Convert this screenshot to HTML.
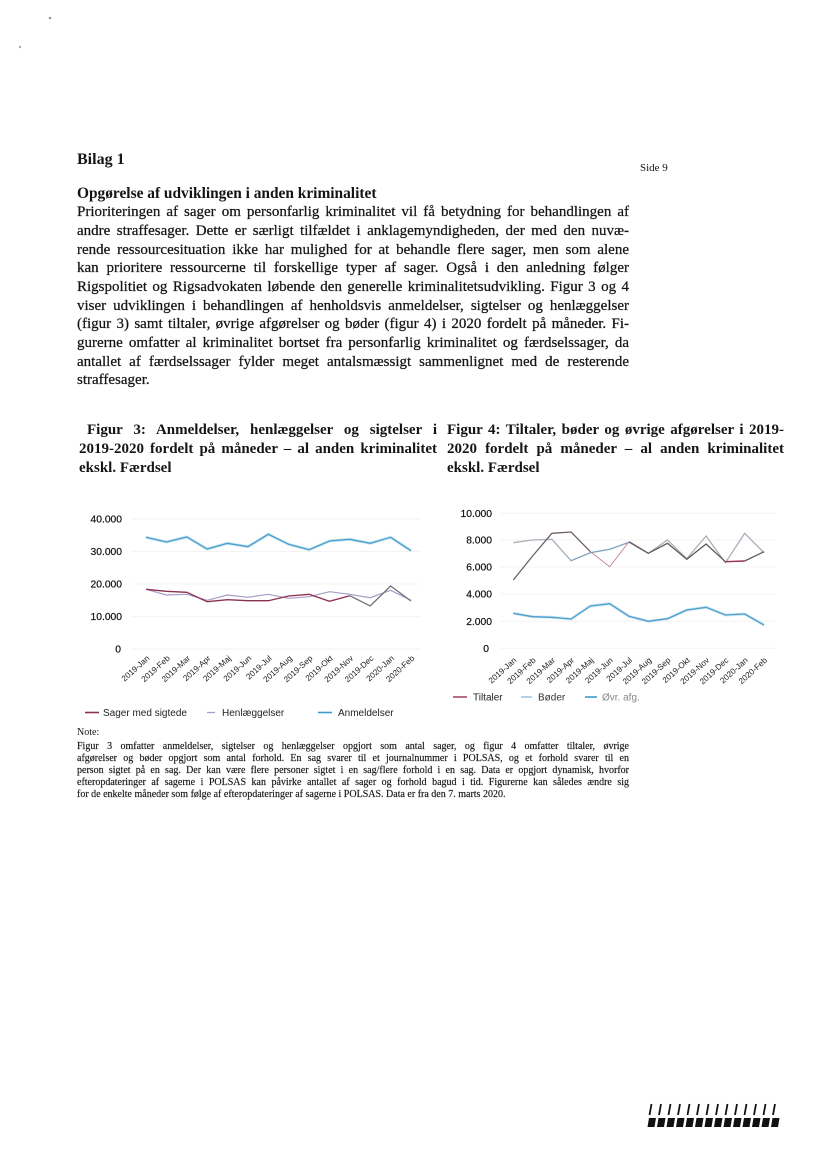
<!DOCTYPE html>
<html>
<head>
<meta charset="utf-8">
<style>
  html,body{margin:0;padding:0;background:#fff;}
  body{width:828px;height:1169px;position:relative;overflow:hidden;font-family:"Liberation Serif",serif;color:#151515;}
  .abs{position:absolute;}
  .j{text-align:justify;text-align-last:justify;white-space:normal;}
  .para{left:77px;top:203.3px;width:552px;font-size:15px;line-height:18.7px;-webkit-text-stroke:0.25px #151515;}
  .para div{height:18.7px;overflow:visible;}
  .cap{font-weight:bold;font-size:15px;line-height:19px;}
  .cap div{height:19px;}
  .note{left:77px;width:552px;font-size:10px;line-height:12px;-webkit-text-stroke:0.15px #151515;}
  .note div{height:12px;}
  svg{position:absolute;left:0;top:0;}
</style>
</head>
<body>

<div class="abs" style="left:77px;top:150.6px;font-size:16px;line-height:18px;font-weight:bold;">Bilag 1</div>
<div class="abs" style="left:640px;top:161px;font-size:11px;line-height:14px;">Side 9</div>
<div class="abs" style="left:77px;top:184.8px;font-size:15.4px;line-height:18px;font-weight:bold;">Opgørelse af udviklingen i anden kriminalitet</div>

<div class="abs para">
  <div class="j">Prioriteringen af sager om personfarlig kriminalitet vil få betydning for behandlingen af</div>
  <div class="j">andre straffesager. Dette er særligt tilfældet i anklagemyndigheden, der med den nuvæ-</div>
  <div class="j">rende ressourcesituation ikke har mulighed for at behandle flere sager, men som alene</div>
  <div class="j">kan prioritere ressourcerne til forskellige typer af sager. Også i den anledning følger</div>
  <div class="j">Rigspolitiet og Rigsadvokaten løbende den generelle kriminalitetsudvikling. Figur 3 og 4</div>
  <div class="j">viser udviklingen i behandlingen af henholdsvis anmeldelser, sigtelser og henlæggelser</div>
  <div class="j">(figur 3) samt tiltaler, øvrige afgørelser og bøder (figur 4) i 2020 fordelt på måneder. Fi-</div>
  <div class="j">gurerne omfatter al kriminalitet bortset fra personfarlig kriminalitet og færdselssager, da</div>
  <div class="j">antallet af færdselssager fylder meget antalsmæssigt sammenlignet med de resterende</div>
  <div>straffesager.</div>
</div>

<div class="abs cap" style="left:79px;top:421.4px;width:358px;">
  <div class="j" style="padding-left:8px;">Figur 3: Anmeldelser, henlæggelser og sigtelser i</div>
  <div class="j">2019-2020 fordelt på måneder – al anden kriminalitet</div>
  <div>ekskl. Færdsel</div>
</div>

<div class="abs cap" style="left:447px;top:421.4px;width:337px;">
  <div class="j">Figur 4: Tiltaler, bøder og øvrige afgørelser i 2019-</div>
  <div class="j">2020 fordelt på måneder – al anden kriminalitet</div>
  <div>ekskl. Færdsel</div>
</div>

<div class="abs" style="left:77px;top:727px;font-size:10px;line-height:12px;">Note:</div>
<div class="abs note" style="top:740.5px;">
  <div class="j">Figur 3 omfatter anmeldelser, sigtelser og henlæggelser opgjort som antal sager, og figur 4 omfatter tiltaler, øvrige</div>
  <div class="j">afgørelser og bøder opgjort som antal forhold. En sag svarer til et journalnummer i POLSAS, og et forhold svarer til en</div>
  <div class="j">person sigtet på en sag. Der kan være flere personer sigtet i en sag/flere forhold i en sag. Data er opgjort dynamisk, hvorfor</div>
  <div class="j">efteropdateringer af sagerne i POLSAS kan påvirke antallet af sager og forhold bagud i tid. Figurerne kan således ændre sig</div>
  <div>for de enkelte måneder som følge af efteropdateringer af sagerne i POLSAS. Data er fra den 7. marts 2020.</div>
</div>

<svg width="828" height="1169" viewBox="0 0 828 1169" xmlns="http://www.w3.org/2000/svg">
  <!-- scan specks -->
  <circle cx="50" cy="18" r="1.3" fill="#999"/>
  <circle cx="20" cy="47" r="1.2" fill="#aaa"/>

  <!-- ===== Figure 3 ===== -->
  <g stroke="#f3f3f3" stroke-width="1">
    <line x1="132" y1="519" x2="420" y2="519"/>
    <line x1="132" y1="551.5" x2="420" y2="551.5"/>
    <line x1="132" y1="584" x2="420" y2="584"/>
    <line x1="132" y1="616.5" x2="420" y2="616.5"/>
    <line x1="132" y1="649" x2="420" y2="649"/>
  </g>
  <g font-family="Liberation Sans, sans-serif" font-size="10.3" fill="#111" text-anchor="end" stroke="#111" stroke-width="0.2">
    <text x="122" y="522.5">40.000</text>
    <text x="122" y="555">30.000</text>
    <text x="122" y="587.5">20.000</text>
    <text x="122" y="620">10.000</text>
    <text x="121" y="652.5">0</text>
  </g>
  <polyline fill="none" stroke="#c9e4f2" stroke-width="3" points="146,537.3 166.4,542 186.8,537 207.2,549 227.5,543.3 247.9,546.7 268.3,534.3 288.7,544.3 309.1,549.7 329.5,541 349.8,539.3 370.2,543.3 390.6,537.3 411,550.7"/>
  <polyline fill="none" stroke="#4a9fcc" stroke-width="1.3" points="146,537.3 166.4,542 186.8,537 207.2,549 227.5,543.3 247.9,546.7 268.3,534.3 288.7,544.3 309.1,549.7 329.5,541 349.8,539.3 370.2,543.3 390.6,537.3 411,550.7"/>
  <polyline fill="none" stroke="#a69ec6" stroke-width="1.2" points="146,589.3 166.4,595 186.8,594.3 207.2,600.3 227.5,595 247.9,597.3 268.3,594.3 288.7,598.3 309.1,596.7 329.5,591.7 349.8,594.3 370.2,597.7 390.6,590.3 411,600.3"/>
  <polyline fill="none" stroke="#8e2f4e" stroke-width="1.3" points="146,589.3 166.4,591.3 186.8,592.3 207.2,601.7 227.5,599.7 247.9,600.7 268.3,600.7 288.7,596 309.1,594.3 329.5,601.3 349.8,595.7"/>
  <polyline fill="none" stroke="#76707a" stroke-width="1.3" points="349.8,595.7 370.2,606 390.6,586 411,601"/>

  <g font-family="Liberation Sans, sans-serif" font-size="8.2" fill="#222" text-anchor="end">
    <text transform="translate(150,659) rotate(-42)">2019-Jan</text>
    <text transform="translate(170.4,659) rotate(-42)">2019-Feb</text>
    <text transform="translate(190.8,659) rotate(-42)">2019-Mar</text>
    <text transform="translate(211.2,659) rotate(-42)">2019-Apr</text>
    <text transform="translate(231.5,659) rotate(-42)">2019-Maj</text>
    <text transform="translate(251.9,659) rotate(-42)">2019-Jun</text>
    <text transform="translate(272.3,659) rotate(-42)">2019-Jul</text>
    <text transform="translate(292.7,659) rotate(-42)">2019-Aug</text>
    <text transform="translate(313.1,659) rotate(-42)">2019-Sep</text>
    <text transform="translate(333.5,659) rotate(-42)">2019-Okt</text>
    <text transform="translate(353.8,659) rotate(-42)">2019-Nov</text>
    <text transform="translate(374.2,659) rotate(-42)">2019-Dec</text>
    <text transform="translate(394.6,659) rotate(-42)">2020-Jan</text>
    <text transform="translate(415,659) rotate(-42)">2020-Feb</text>
  </g>

  <!-- legend fig 3 -->
  <line x1="85" y1="712.5" x2="99" y2="712.5" stroke="#8e2f4e" stroke-width="1.6"/>
  <line x1="207" y1="712.5" x2="215" y2="712.5" stroke="#a69ec6" stroke-width="1.3"/>
  <line x1="318" y1="712.5" x2="332" y2="712.5" stroke="#3f9ad0" stroke-width="1.6"/>
  <g font-family="Liberation Sans, sans-serif" font-size="10" fill="#222">
    <text x="103" y="716">Sager med sigtede</text>
    <text x="222" y="716">Henlæggelser</text>
    <text x="338" y="716">Anmeldelser</text>
  </g>

  <!-- ===== Figure 4 ===== -->
  <g stroke="#f3f3f3" stroke-width="1">
    <line x1="500" y1="513.3" x2="776" y2="513.3"/>
    <line x1="500" y1="540" x2="776" y2="540"/>
    <line x1="500" y1="567" x2="776" y2="567"/>
    <line x1="500" y1="594" x2="776" y2="594"/>
    <line x1="500" y1="621.3" x2="776" y2="621.3"/>
    <line x1="500" y1="648.3" x2="776" y2="648.3"/>
  </g>
  <g font-family="Liberation Sans, sans-serif" font-size="10.3" fill="#111" text-anchor="end" stroke="#111" stroke-width="0.2">
    <text x="492" y="517">10.000</text>
    <text x="492" y="543.5">8.000</text>
    <text x="492" y="570.5">6.000</text>
    <text x="492" y="597.5">4.000</text>
    <text x="492" y="625">2.000</text>
    <text x="489" y="652">0</text>
  </g>
  <polyline fill="none" stroke="#d2e7f4" stroke-width="3" points="513.3,613.3 532.6,616.7 551.9,617.3 571.1,619 590.4,606 609.7,603.7 629,616.3 648.3,621.3 667.5,618.7 686.8,610 706.1,607.3 725.4,615 744.7,614 764,625"/>
  <polyline fill="none" stroke="#4a9fcc" stroke-width="1.3" points="513.3,613.3 532.6,616.7 551.9,617.3 571.1,619 590.4,606 609.7,603.7 629,616.3 648.3,621.3 667.5,618.7 686.8,610 706.1,607.3 725.4,615 744.7,614 764,625"/>
  <polyline fill="none" stroke="#a8b0b8" stroke-width="1.3" points="513.3,542.7 532.6,540 551.9,539.3 571.1,560.7 590.4,552.7 609.7,549.3 629,542.3 648.3,553.3 667.5,540 686.8,558.7 706.1,536 725.4,562.7 744.7,533.3 764,552.7"/>
  <polyline fill="none" stroke="#7fa6c6" stroke-width="1.2" points="571.1,560.7 590.4,552.7 609.7,549.3 629,542.3"/>
  <polyline fill="none" stroke="#6e5f67" stroke-width="1.3" points="513.3,580 532.6,556 551.9,533.3 571.1,532 590.4,551.7"/>
  <polyline fill="none" stroke="#c0737f" stroke-width="0.8" points="590.4,551.7 609.7,566.7 629,541.7"/>
  <polyline fill="none" stroke="#5f5a5e" stroke-width="1.3" points="629,541.7 648.3,553.3 667.5,543.3 686.8,559.3 706.1,544 725.4,561.7"/>
  <polyline fill="none" stroke="#9b2f50" stroke-width="1.4" points="725.4,561.7 744.7,561"/>
  <polyline fill="none" stroke="#5f5a5e" stroke-width="1.3" points="744.7,561 764,551.7"/>

  <g font-family="Liberation Sans, sans-serif" font-size="8.2" fill="#222" text-anchor="end">
    <text transform="translate(517,661) rotate(-42)">2019-Jan</text>
    <text transform="translate(536.3,661) rotate(-42)">2019-Feb</text>
    <text transform="translate(555.6,661) rotate(-42)">2019-Mar</text>
    <text transform="translate(574.8,661) rotate(-42)">2019-Apr</text>
    <text transform="translate(594.1,661) rotate(-42)">2019-Maj</text>
    <text transform="translate(613.4,661) rotate(-42)">2019-Jun</text>
    <text transform="translate(632.7,661) rotate(-42)">2019-Jul</text>
    <text transform="translate(652,661) rotate(-42)">2019-Aug</text>
    <text transform="translate(671.2,661) rotate(-42)">2019-Sep</text>
    <text transform="translate(690.5,661) rotate(-42)">2019-Okt</text>
    <text transform="translate(709.8,661) rotate(-42)">2019-Nov</text>
    <text transform="translate(729.1,661) rotate(-42)">2019-Dec</text>
    <text transform="translate(748.4,661) rotate(-42)">2020-Jan</text>
    <text transform="translate(767.7,661) rotate(-42)">2020-Feb</text>
  </g>

  <!-- legend fig 4 -->
  <line x1="453" y1="697" x2="467" y2="697" stroke="#9b2f50" stroke-width="1.4"/>
  <line x1="521" y1="697" x2="532" y2="697" stroke="#8fb6d6" stroke-width="1.3"/>
  <line x1="585" y1="697" x2="597" y2="697" stroke="#3f9ad0" stroke-width="1.6"/>
  <g font-family="Liberation Sans, sans-serif" font-size="10">
    <text x="473" y="700.5" fill="#222">Tiltaler</text>
    <text x="538" y="700.5" fill="#333">Bøder</text>
    <text x="602" y="700.5" fill="#888">Øvr. afg.</text>
  </g>

  <!-- barcode -->
  <g stroke="#111" stroke-width="1.8" stroke-linecap="butt">
    <line x1="651.5" y1="1104" x2="649.5" y2="1115"/>
    <line x1="661" y1="1104" x2="659" y2="1115"/>
    <line x1="670.5" y1="1104" x2="668.5" y2="1115"/>
    <line x1="680" y1="1104" x2="678" y2="1115"/>
    <line x1="689.5" y1="1104" x2="687.5" y2="1115"/>
    <line x1="699" y1="1104" x2="697" y2="1115"/>
    <line x1="708.5" y1="1104" x2="706.5" y2="1115"/>
    <line x1="718" y1="1104" x2="716" y2="1115"/>
    <line x1="727.5" y1="1104" x2="725.5" y2="1115"/>
    <line x1="737" y1="1104" x2="735" y2="1115"/>
    <line x1="746.5" y1="1104" x2="744.5" y2="1115"/>
    <line x1="756" y1="1104" x2="754" y2="1115"/>
    <line x1="765.5" y1="1104" x2="763.5" y2="1115"/>
    <line x1="775" y1="1104" x2="773" y2="1115"/>
  </g>
  <g fill="#111">
    <polygon points="649,1118 656,1118 654.5,1127 647.5,1127"/>
    <polygon points="658.5,1118 665.5,1118 664,1127 657,1127"/>
    <polygon points="668,1118 675,1118 673.5,1127 666.5,1127"/>
    <polygon points="677.5,1118 684.5,1118 683,1127 676,1127"/>
    <polygon points="687,1118 694,1118 692.5,1127 685.5,1127"/>
    <polygon points="696.5,1118 703.5,1118 702,1127 695,1127"/>
    <polygon points="706,1118 713,1118 711.5,1127 704.5,1127"/>
    <polygon points="715.5,1118 722.5,1118 721,1127 714,1127"/>
    <polygon points="725,1118 732,1118 730.5,1127 723.5,1127"/>
    <polygon points="734.5,1118 741.5,1118 740,1127 733,1127"/>
    <polygon points="744,1118 751,1118 749.5,1127 742.5,1127"/>
    <polygon points="753.5,1118 760.5,1118 759,1127 752,1127"/>
    <polygon points="763,1118 770,1118 768.5,1127 761.5,1127"/>
    <polygon points="772.5,1118 779.5,1118 778,1127 771,1127"/>
  </g>
</svg>

</body>
</html>
